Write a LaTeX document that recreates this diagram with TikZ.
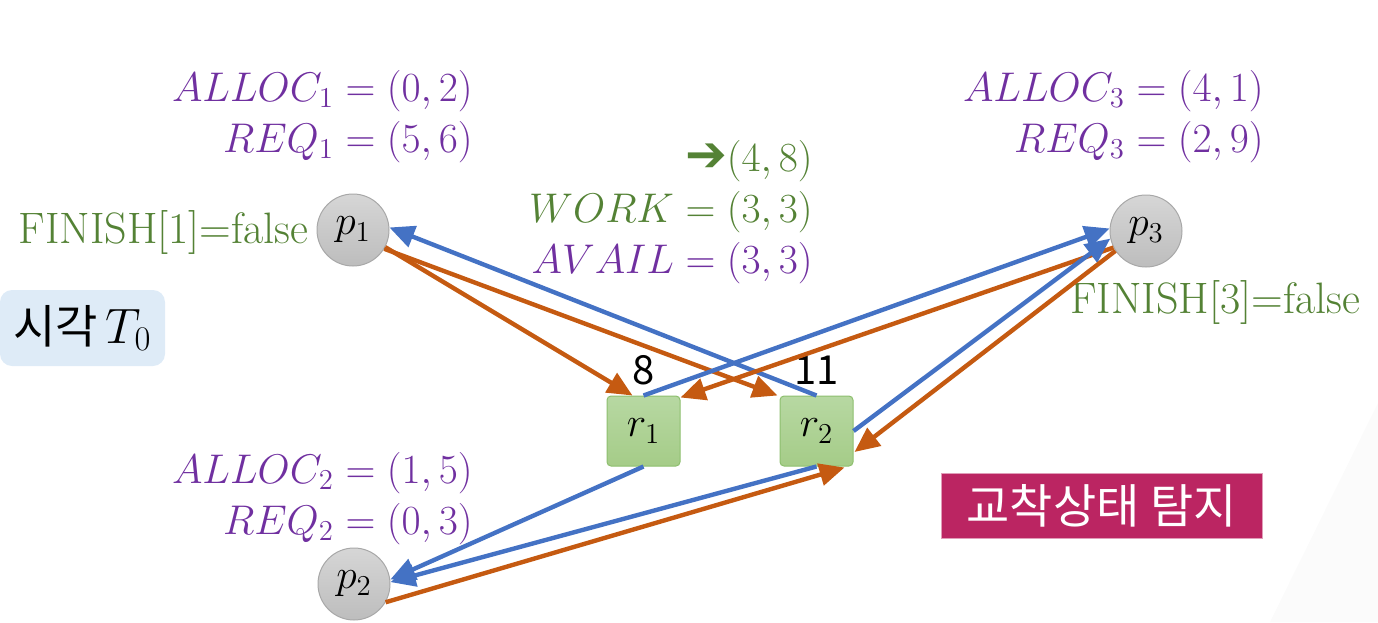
\documentclass[tikz,border=0pt]{standalone}
\usepackage{fontspec}
\newfontfamily\kr{Noto Sans CJK KR}
\newfontfamily\dv{DejaVu Sans}
\usetikzlibrary{arrows.meta,calc}
\definecolor{purp}{HTML}{7030A0}
\definecolor{grn}{HTML}{548235}
\definecolor{orng}{HTML}{C55A11}
\definecolor{blu}{HTML}{4472C4}
\definecolor{mag}{HTML}{BB2562}
\definecolor{lblue}{HTML}{DEEBF7}
\definecolor{boxtop}{HTML}{B7D8A2}
\definecolor{boxbot}{HTML}{A5CC88}
\definecolor{boxline}{HTML}{8DBF6E}
\definecolor{circtop}{HTML}{D6D6D6}
\definecolor{circbot}{HTML}{BDBDBD}
\definecolor{circline}{HTML}{A8A8A8}
\definecolor{faint}{HTML}{FBFBFB}
\begin{document}
\begin{tikzpicture}[x=0.5pt,y=-0.5pt,
  proc/.style={circle, minimum size=36pt, inner sep=0pt, draw=circline, line width=0.5pt,
    top color=circtop, bottom color=circbot, font=\fontsize{21}{24}\selectfont},
  res/.style={rectangle, rounded corners=2pt, minimum width=36.5pt, minimum height=35pt,
    inner sep=0pt, draw=boxline, line width=0.5pt, top color=boxtop, bottom color=boxbot,
    font=\fontsize{22}{24}\selectfont},
  lbl/.style={font=\fontsize{20}{24}\selectfont, inner sep=0pt},
  fin/.style={font=\fontsize{22}{26}\selectfont, inner sep=0pt, text=grn},
  cnt/.style={font=\kr\fontsize{20}{24}\selectfont, inner sep=0pt},
  oarr/.style={draw=orng, line width=2.2pt, -{Triangle[length=12.5pt,width=11pt]}},
  barr/.style={draw=blu, line width=2.2pt, -{Triangle[length=12.5pt,width=11pt]}}]
\useasboundingbox (0,0) rectangle (1378,622);
\fill[faint] (1378,403) -- (1270,622) -- (1378,622) -- cycle;

% processes and resources
\node[proc] (p1) at (353,230) {$p_1$};
\node[proc] (p3) at (1146,231) {$p_3$};
\node[proc] (p2) at (354,584) {$p_2$};
\node[res] (r1) at (643.5,431) {$r_1$};
\node[res] (r2) at (816.5,431) {$r_2$};
\node[cnt, anchor=base] (n8) at ($(r1.north)+(0,-11)$) {8};
\node[cnt, anchor=base] (n11) at ($(r2.north)+(0,-11)$) {11};

% labels
\node[lbl, text=purp, anchor=base east] (a1) at (473,101) {$ALLOC_1=(0,2)$};
\node[lbl, text=purp, anchor=base east] (q1) at (473,152) {$REQ_1=(5,6)$};
\node[lbl, text=purp, anchor=base east] (a3) at (1264,101) {$ALLOC_3=(4,1)$};
\node[lbl, text=purp, anchor=base east] (q3) at (1264,152) {$REQ_3=(2,9)$};
\node[lbl, text=purp, anchor=base east] (a2) at (473,483) {$ALLOC_2=(1,5)$};
\node[lbl, text=purp, anchor=base east] (q2) at (473,534) {$REQ_2=(0,3)$};
\node[lbl, text=grn, anchor=base east] (w2) at (813,171) {{\dv\fontsize{25}{26}\selectfont ➔}$(4,8)$};
\node[lbl, text=grn, anchor=base east] (w1) at (813,222) {$WORK=(3,3)$};
\node[lbl, text=purp, anchor=base east] (av) at (813,273) {$AVAIL=(3,3)$};
\node[fin, anchor=base east] (f1) at (309,243) {FINISH[1]=false};
\node[fin, anchor=base west] (f3) at (1070,313) {FINISH[3]=false};

\node[fill=lblue, rounded corners=6pt, minimum width=82.5pt, minimum height=38pt,
  inner sep=0pt, font=\fontsize{23}{26}\selectfont] (t0) at (82.5,328) {{\kr 시각}\,$T_0$};
\node[fill=mag, draw=mag!45, line width=0.4pt, minimum width=160.5pt, minimum height=32.5pt,
  inner sep=0pt, text=white, font=\kr\fontsize{23.5}{26}\selectfont] (det) at (1101.5,505.5) {교착상태 탐지};

% edges
\draw[oarr] (p1.-28) -- ($(r1.north)+(-11,0)$);
\draw[oarr] (p1.-31) -- ($(r2.north west)+(-2,0)$);
\draw[barr] (r2.north) -- (p1.4);
\draw[barr] (r1.north) -- (p3.176);
\draw[oarr] (p3.207) -- ($(r1.north east)+(0,2)$);
\draw[barr] (r2.east) -- (p3.192);
\draw[oarr] (p3.213) -- ($(r2.east)+(1,21)$);
\draw[barr] (r1.south) -- (p2.7);
\draw[barr] (r2.south) -- (p2.3);
\draw[oarr] (p2.-30) -- ($(r2.south)+(28,1)$);
\end{tikzpicture}
\end{document}
